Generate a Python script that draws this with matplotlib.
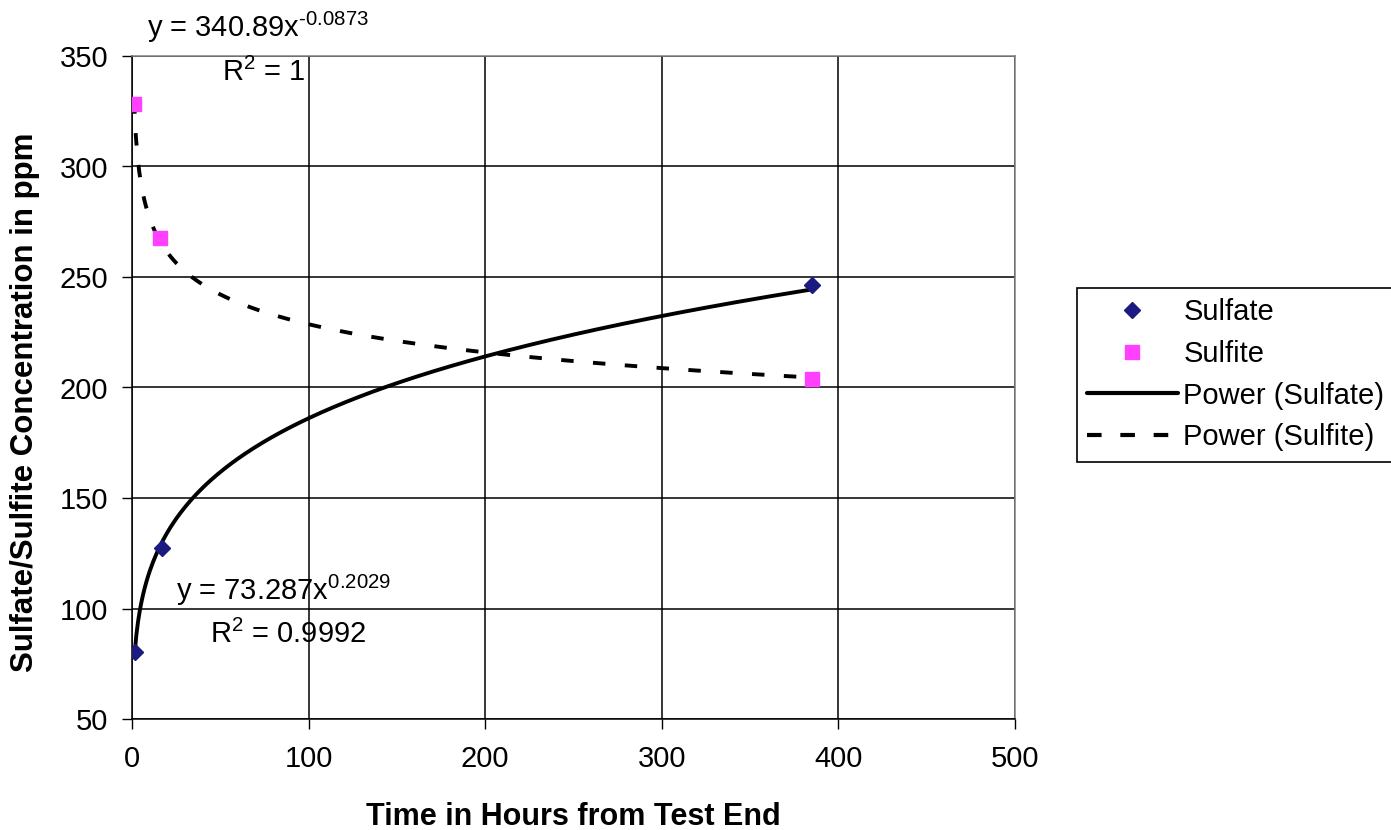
import numpy as np
import matplotlib
matplotlib.use("Agg")
import matplotlib.pyplot as plt
from matplotlib.lines import Line2D

plt.rcParams["font.family"] = ["Liberation Sans", "DejaVu Sans"]
plt.rcParams["mathtext.fontset"] = "custom"
plt.rcParams["mathtext.rm"] = "Liberation Sans"
plt.rcParams["mathtext.default"] = "regular"

# measured concentrations
sulfate_hours = [1.5, 17, 385]
sulfate_ppm = [80.5, 127.5, 246.5]
sulfite_hours = [1.2, 16, 385]
sulfite_ppm = [328.5, 267.5, 204]

sulfate_eq = (r"y = 73.287x$^{0.2029}$", r"R$^2$ = 0.9992")
sulfite_eq = (r"y = 340.89x$^{\text{-}0.0873}$", r"R$^2$ = 1")

FS = 21


# power trendline, same as Excel: least squares in log-log space
def power_fit(x, y):
    b, ln_a = np.polyfit(np.log(x), np.log(y), 1)
    xs = np.linspace(min(x), max(x), 400)
    return xs, np.exp(ln_a) * xs ** b


fig = plt.figure(figsize=(13.91, 8.30), dpi=100)
ax = fig.add_axes([132 / 1391, 1 - 719 / 830, 883 / 1391, 663 / 830])

xs, ys = power_fit(sulfate_hours, sulfate_ppm)
ax.plot(xs, ys, color="black", lw=2.8, solid_capstyle="round", zorder=3)
xs, ys = power_fit(sulfite_hours, sulfite_ppm)
ax.plot(xs, ys, color="black", lw=2.8, dashes=(3.2, 5), dash_capstyle="butt", zorder=3)

ax.plot(sulfate_hours, sulfate_ppm, ls="none", marker="D", ms=8.5, color="#1a1a80", zorder=4)
ax.plot(sulfite_hours, sulfite_ppm, ls="none", marker="s", ms=9.5, color="#ff40ff", zorder=4)

ax.set_xlim(0, 500)
ax.set_ylim(50, 350)
ax.set_xticks(range(0, 501, 100))
ax.set_yticks(range(50, 351, 50))
ax.tick_params(labelsize=FS, direction="out", length=7, width=1, color="black")
ax.tick_params(axis="y", pad=10)
ax.tick_params(axis="x", pad=12)
ax.grid(True, color="black", lw=1.1)
ax.set_axisbelow(True)
for side in ("left", "bottom"):
    ax.spines[side].set_color("black")
    ax.spines[side].set_linewidth(1.1)
for side in ("top", "right"):
    ax.spines[side].set_color("#808080")
    ax.spines[side].set_linewidth(1.1)

ax.set_xlabel("Time in Hours from Test End", fontsize=22, fontweight="bold")
ax.xaxis.set_label_coords(0.5, -0.125)
fig.text(25 / 1391, 1 - 402 / 830, "Sulfate/Sulfite Concentration in ppm", fontsize=22.5,
         fontweight="bold", rotation=90, ha="center", va="center")

ax.text(8.5, 358.5, sulfite_eq[0], fontsize=FS, ha="left", va="baseline", clip_on=False)
ax.text(51, 338.5, sulfite_eq[1], fontsize=FS, ha="left", va="baseline", clip_on=False)
ax.text(25, 104, sulfate_eq[0], fontsize=FS, ha="left", va="baseline")
ax.text(44, 84.5, sulfate_eq[1], fontsize=FS, ha="left", va="baseline")

handles = [
    Line2D([0], [0], ls="none", marker="D", ms=8.5, color="#1a1a80", label="Sulfate"),
    Line2D([0], [0], ls="none", marker="s", ms=9.5, color="#ff40ff", label="Sulfite"),
    Line2D([0], [0], color="black", lw=3, solid_capstyle="round", label="Power (Sulfate)"),
    Line2D([0], [0], color="black", lw=3, dashes=(3.5, 4.5), label="Power (Sulfite)"),
]
leg = fig.legend(handles=handles, loc="upper left", bbox_to_anchor=(1077 / 1391, 1 - 288 / 830),
                 fontsize=FS, frameon=True, fancybox=False, framealpha=1, edgecolor="black",
                 handlelength=3.1, handletextpad=0.2, borderpad=0.35, labelspacing=0.47,
                 borderaxespad=0)
leg.get_frame().set_linewidth(1.2)

fig.savefig("out.png", dpi=100)
